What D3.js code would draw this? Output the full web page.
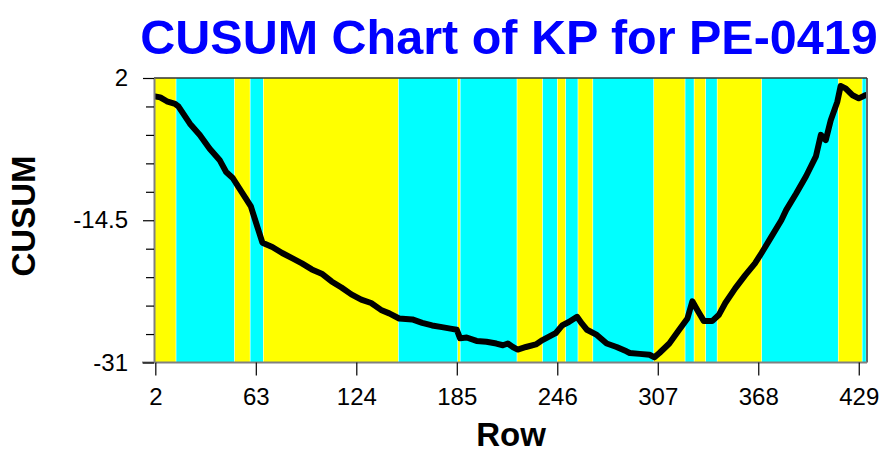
<!DOCTYPE html>
<html>
<head>
<meta charset="utf-8">
<script src="https://cdn.jsdelivr.net/npm/d3@7"></script>
<style>
    body { margin: 0; background: #fff; }
    svg { display: block; font-family: "Liberation Sans", Arial, sans-serif; }
</style>
</head>
<body>
<div id="cusum-chart"></div>
<script>
// rows and cusum values
const rows = [1, 5, 9, 14, 16, 23, 29, 35, 41, 45, 49, 53, 57, 60, 63, 67, 73, 79, 85, 91,
    97, 103, 109, 115, 121, 127, 133, 139, 144, 150, 158, 164, 170, 176, 182, 185, 187, 191, 197, 203,
    209, 213, 216, 219, 222, 227, 233, 237, 241, 245, 249, 253, 258, 261, 264, 270, 276, 282, 288, 290,
    296, 302, 305, 308, 314, 320, 325, 328, 331, 335, 340, 344, 348, 354, 360, 366, 370, 376, 382, 385,
    391, 397, 403, 406, 409, 412, 416, 418, 421, 425, 429, 433];
const cusum = [-0.1, -0.25, -0.7, -1.0, -1.3, -3.3, -4.6, -6.2, -7.5, -8.9, -9.6, -10.8, -12.0, -12.9, -14.7, -17.1, -17.6, -18.3, -18.9, -19.5,
    -20.2, -20.7, -21.6, -22.3, -23.1, -23.7, -24.1, -24.9, -25.3, -25.9, -26.0, -26.4, -26.7, -26.9, -27.1, -27.2, -28.2, -28.1, -28.5, -28.6,
    -28.8, -29.0, -28.8, -29.2, -29.5, -29.2, -28.9, -28.4, -28.0, -27.6, -26.7, -26.3, -25.7, -26.5, -27.2, -27.8, -28.8, -29.2, -29.7, -29.9,
    -30.0, -30.1, -30.4, -29.9, -28.8, -27.2, -25.9, -23.9, -24.9, -26.2, -26.2, -25.5, -24.1, -22.4, -20.9, -19.5, -18.3, -16.4, -14.5, -13.3,
    -11.4, -9.4, -7.1, -4.6, -5.2, -2.9, -0.75, 1.07, 0.8, 0.03, -0.36, 0.0];

// background band edges (row units), bands alternate above / below
const bandEdges = [1.2, 14.5, 50, 59.5, 67.5, 149.5, 185.5, 187, 221.5, 237, 246, 251, 258.5, 267.5,
    304.5, 323.5, 329, 336, 343, 370, 416.5, 431, 433.4];
const bandKinds = ["above", "below"];

const xTicks = [2, 63, 124, 185, 246, 307, 368, 429];
const yTicks = [2, -1.3, -4.6, -7.9, -11.2, -14.5, -17.8, -21.1, -24.4, -27.7, -31];
const yLabels = [2, -14.5, -31];

//setting dimensions
const W = 881, H = 453;
const plotLeft = 154, plotRight = 866, plotTop = 78, plotBottom = 362.5;

const svg = d3.select("#cusum-chart")
    .append("svg")
    .attr("width", W)
    .attr("height", H);

//scales
const x = d3.scaleLinear().domain([1.2, 433.4]).range([plotLeft, plotRight]);
const y = d3.scaleLinear().domain([-31, 2]).range([plotBottom, plotTop]);
const bandColor = d3.scaleOrdinal().domain(bandKinds).range(["#ffff00", "#00ffff"]);

svg.append("defs").append("clipPath")
    .attr("id", "plot-clip")
    .append("rect")
    .attr("x", plotLeft).attr("y", plotTop)
    .attr("width", plotRight - plotLeft).attr("height", plotBottom - plotTop);

//bands
const bands = d3.pairs(bandEdges).map((p, i) => ({ x0: p[0], x1: p[1], kind: bandKinds[i % 2] }));
svg.append("g")
    .attr("class", "bands")
    .selectAll("rect")
    .data(bands)
    .join("rect")
    .attr("x", d => x(d.x0) + 0.4)
    .attr("y", plotTop)
    .attr("width", d => Math.max(0.5, x(d.x1) - x(d.x0) - 0.6))
    .attr("height", plotBottom - plotTop)
    .attr("fill", d => bandColor(d.kind));

//line
const data = rows.map((r, i) => ({ row: r, value: cusum[i] }));
const line = d3.line()
    .x(d => x(d.row))
    .y(d => y(d.value));

svg.append("path")
    .datum(data)
    .attr("clip-path", "url(#plot-clip)")
    .attr("fill", "none")
    .attr("stroke", "#000")
    .attr("stroke-width", 6)
    .attr("stroke-linejoin", "round")
    .attr("stroke-linecap", "round")
    .attr("d", line);

//frame
svg.append("line").attr("x1", plotLeft).attr("x2", plotRight + 1).attr("y1", plotTop).attr("y2", plotTop)
    .attr("stroke", "#333").attr("stroke-width", 1.5);
svg.append("line").attr("x1", plotRight + 1).attr("x2", plotRight + 1).attr("y1", plotTop).attr("y2", plotBottom)
    .attr("stroke", "#333").attr("stroke-width", 1.5);

//Axis
const xAxis = svg.append("g")
    .attr("class", "x-axis")
    .attr("transform", `translate(0,${plotBottom})`)
    .call(d3.axisBottom(x).tickValues(xTicks).tickSize(13).tickPadding(19).tickSizeOuter(0));
xAxis.select(".domain").attr("d", `M${plotLeft - 12},0H${plotRight + 1}`).attr("stroke", "#808080").attr("stroke-width", 2);
xAxis.selectAll(".tick line").attr("stroke", "#000").attr("stroke-width", 1.2);
xAxis.selectAll(".tick text").attr("font-size", 24).attr("fill", "#000").attr("dy", "0.45em");

const yAxis = svg.append("g")
    .attr("class", "y-axis")
    .attr("transform", `translate(${plotLeft},0)`)
    .call(d3.axisLeft(y).tickValues(yTicks).tickSize(9).tickPadding(16).tickSizeOuter(0)
        .tickFormat(d => yLabels.includes(d) ? String(d) : ""));
yAxis.select(".domain").attr("stroke", "#808080").attr("stroke-width", 2);
yAxis.selectAll(".tick line").attr("stroke", "#000").attr("stroke-width", 1.2)
    .attr("x2", d => yLabels.includes(d) ? -11 : -8);
yAxis.selectAll(".tick text").attr("font-size", 24).attr("fill", "#000").attr("x", -26);

//titles
svg.append("text")
    .attr("x", 509).attr("y", 54)
    .attr("text-anchor", "middle")
    .attr("font-size", 48.5).attr("font-weight", "bold")
    .attr("fill", "#0000ff")
    .text("CUSUM Chart of KP for PE-0419");

svg.append("text")
    .attr("x", 511).attr("y", 446)
    .attr("text-anchor", "middle")
    .attr("font-size", 33).attr("font-weight", "bold")
    .text("Row");

svg.append("text")
    .attr("transform", "translate(35,216) rotate(-90)")
    .attr("text-anchor", "middle")
    .attr("font-size", 33).attr("font-weight", "bold")
    .text("CUSUM");
</script>
</body>
</html>
